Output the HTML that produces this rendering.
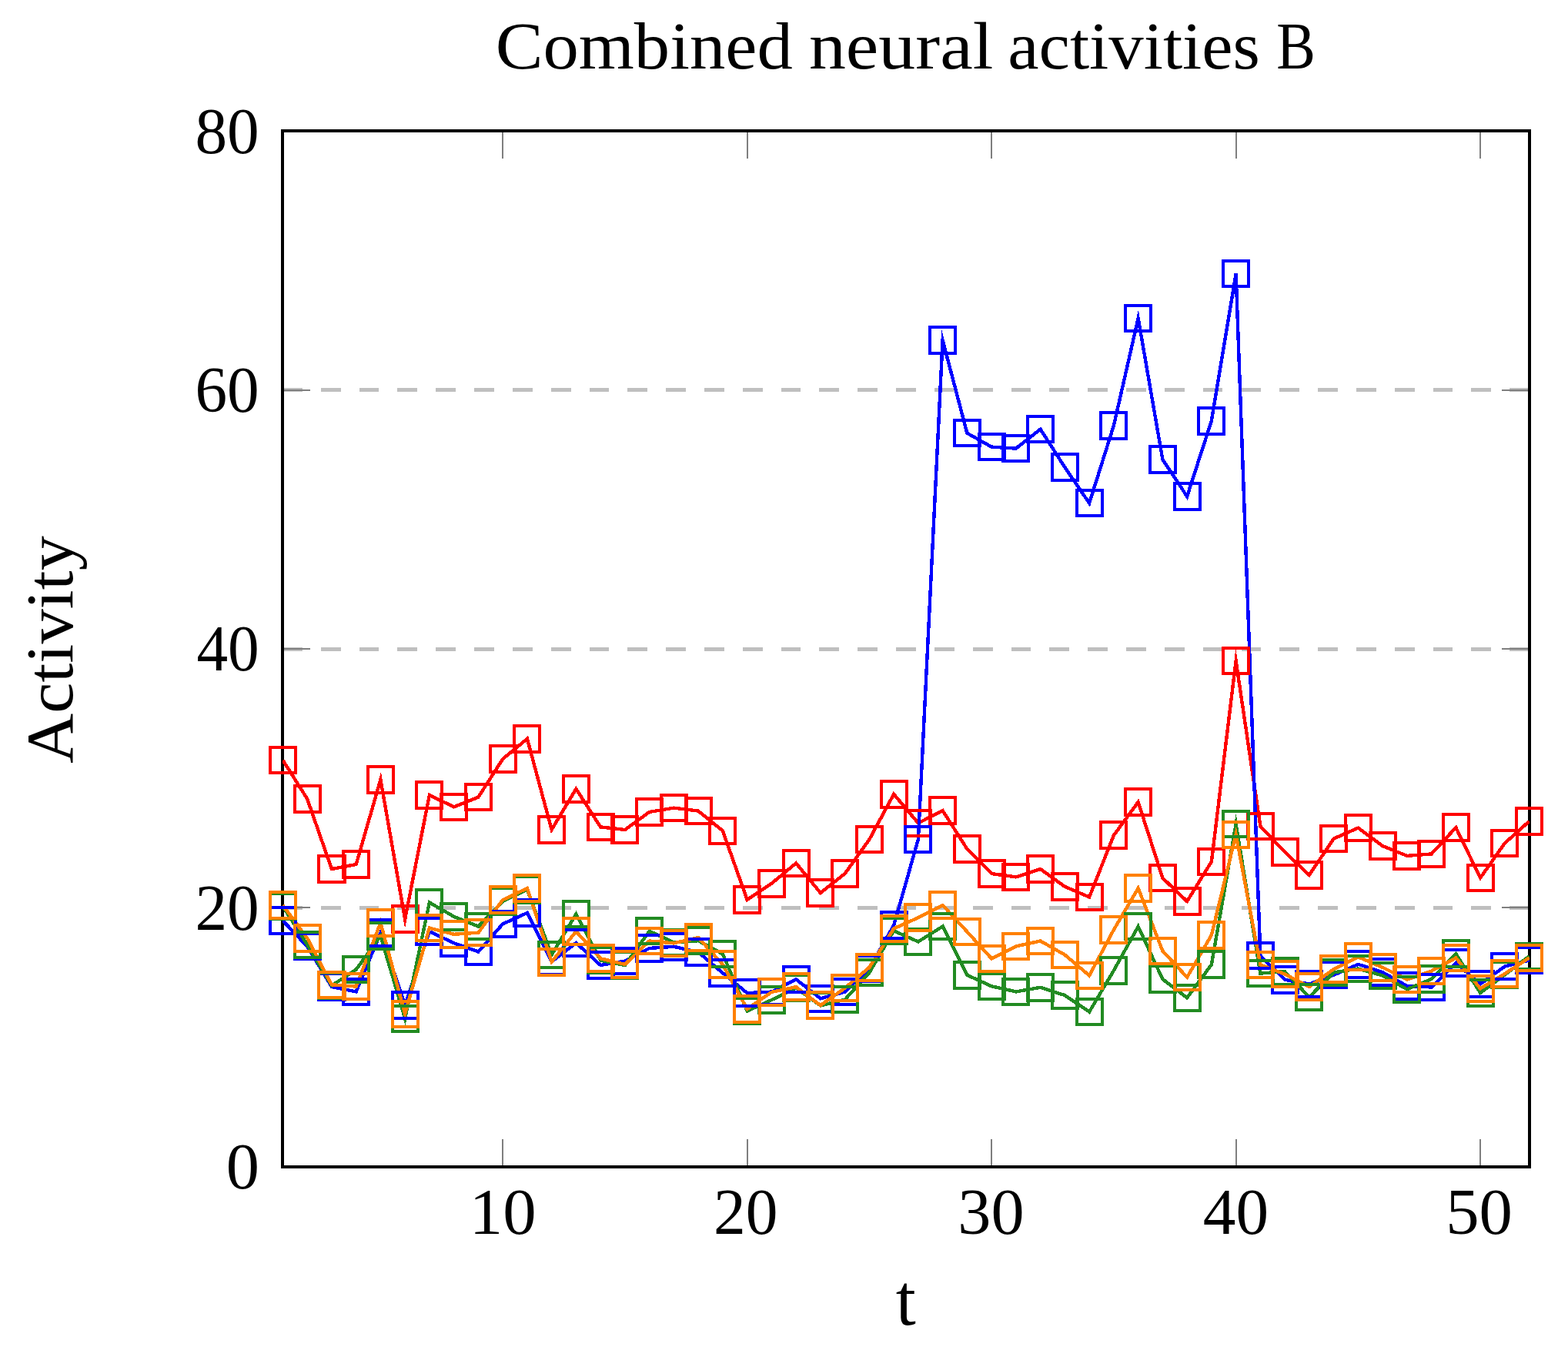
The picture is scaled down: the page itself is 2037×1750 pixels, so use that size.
<!DOCTYPE html>
<html lang="en"><head><meta charset="utf-8"><title>Combined neural activities B</title>
<style>html,body{margin:0;padding:0;background:#fff;}body{width:2037px;height:1750px;overflow:hidden;}svg{display:block;}text{font-family:"Liberation Serif", serif;fill:#000;}</style>
</head><body>
<svg width="2037" height="1750" viewBox="0 0 2037 1750" role="img" aria-label="Combined neural activities B">
<rect x="0" y="0" width="2037" height="1750" fill="#ffffff"/>
<defs><clipPath id="plotclip"><rect x="367" y="170" width="1620" height="1346"/></clipPath></defs>
<g stroke="#bfbfbf" stroke-width="5" stroke-dasharray="25.8 24.02" shape-rendering="crispEdges">
<line x1="367" y1="1179.5" x2="1987" y2="1179.5"/>
<line x1="367" y1="843" x2="1987" y2="843"/>
<line x1="367" y1="506.5" x2="1987" y2="506.5"/>
</g>
<g stroke="#7f7f7f" stroke-width="2" shape-rendering="crispEdges">
<line x1="653" y1="1516" x2="653" y2="1480"/>
<line x1="653" y1="170" x2="653" y2="206"/>
<line x1="971" y1="1516" x2="971" y2="1480"/>
<line x1="971" y1="170" x2="971" y2="206"/>
<line x1="1288" y1="1516" x2="1288" y2="1480"/>
<line x1="1288" y1="170" x2="1288" y2="206"/>
<line x1="1606" y1="1516" x2="1606" y2="1480"/>
<line x1="1606" y1="170" x2="1606" y2="206"/>
<line x1="1923" y1="1516" x2="1923" y2="1480"/>
<line x1="1923" y1="170" x2="1923" y2="206"/>
<line x1="367" y1="1179" x2="403" y2="1179"/>
<line x1="1987" y1="1179" x2="1951" y2="1179"/>
<line x1="367" y1="843" x2="403" y2="843"/>
<line x1="1987" y1="843" x2="1951" y2="843"/>
<line x1="367" y1="507" x2="403" y2="507"/>
<line x1="1987" y1="507" x2="1951" y2="507"/>
</g>
<rect x="367" y="170" width="1620" height="1346" fill="none" stroke="#000" stroke-width="4" shape-rendering="crispEdges"/>
<g fill="none" stroke-width="4.4" stroke-miterlimit="10" stroke-linejoin="miter" shape-rendering="crispEdges" clip-path="url(#plotclip)">
<polyline stroke="#ff0000" points="367.40,987.6 399.15,1037.9 430.90,1129.0 462.65,1123.0 494.40,1012.8 526.15,1194.2 557.89,1032.9 589.64,1048.4 621.39,1035.6 653.14,986.1 684.89,959.8 716.64,1077.9 748.39,1024.9 780.14,1074.4 811.89,1078.0 843.64,1054.9 875.38,1049.6 907.13,1053.6 938.88,1079.4 970.63,1168.9 1002.38,1147.8 1034.13,1121.4 1065.88,1160.0 1097.63,1135.0 1129.38,1090.6 1161.13,1031.8 1192.87,1069.4 1224.62,1053.1 1256.37,1103.0 1288.12,1135.0 1319.87,1139.4 1351.62,1129.0 1383.37,1151.9 1415.12,1165.5 1446.87,1085.2 1478.62,1042.0 1510.36,1140.7 1542.11,1171.0 1573.86,1119.5 1605.61,858.6 1637.36,1073.4 1669.11,1106.9 1700.86,1136.8 1732.61,1089.6 1764.36,1075.6 1796.11,1099.0 1827.85,1111.9 1859.60,1109.4 1891.35,1075.1 1923.10,1140.5 1954.85,1095.5 1986.60,1067.0"/>
<polyline stroke="#0000ff" points="367.40,1196.1 399.15,1229.5 430.90,1282.0 462.65,1288.4 494.40,1211.8 526.15,1305.9 557.89,1210.2 589.64,1225.2 621.39,1236.5 653.14,1200.4 684.89,1186.0 716.64,1249.4 748.39,1225.0 780.14,1254.0 811.89,1248.5 843.64,1231.9 875.38,1229.8 907.13,1237.0 938.88,1264.1 970.63,1290.1 1002.38,1288.6 1034.13,1272.3 1065.88,1297.3 1097.63,1288.6 1129.38,1258.6 1161.13,1202.0 1192.87,1090.7 1224.62,442.1 1256.37,562.7 1288.12,580.6 1319.87,582.6 1351.62,557.6 1383.37,607.2 1415.12,653.7 1446.87,553.0 1478.62,413.5 1510.36,596.8 1542.11,645.0 1573.86,546.8 1605.61,355.5 1637.36,1241.7 1669.11,1272.8 1700.86,1278.5 1732.61,1266.7 1764.36,1252.8 1796.11,1263.2 1827.85,1280.9 1859.60,1282.5 1891.35,1251.0 1923.10,1278.5 1954.85,1255.6 1986.60,1247.6"/>
<polyline stroke="#228b22" points="367.40,1177.5 399.15,1227.3 430.90,1280.5 462.65,1259.6 494.40,1216.1 526.15,1323.3 557.89,1172.5 589.64,1190.8 621.39,1203.6 653.14,1170.8 684.89,1155.9 716.64,1240.5 748.39,1187.6 780.14,1247.6 811.89,1254.0 843.64,1209.7 875.38,1224.4 907.13,1222.2 938.88,1239.4 970.63,1313.5 1002.38,1299.1 1034.13,1283.5 1065.88,1306.5 1097.63,1298.7 1129.38,1263.6 1161.13,1209.4 1192.87,1223.4 1224.62,1203.6 1256.37,1266.8 1288.12,1281.3 1319.87,1288.4 1351.62,1282.8 1383.37,1293.1 1415.12,1314.6 1446.87,1260.9 1478.62,1203.7 1510.36,1272.1 1542.11,1296.3 1573.86,1253.2 1605.61,1070.6 1637.36,1264.6 1669.11,1262.2 1700.86,1295.3 1732.61,1263.4 1764.36,1258.6 1796.11,1267.4 1827.85,1285.3 1859.60,1272.0 1891.35,1239.1 1923.10,1290.0 1954.85,1266.4 1986.60,1242.3"/>
<polyline stroke="#ff8000" points="367.40,1176.2 399.15,1218.8 430.90,1279.3 462.65,1281.6 494.40,1198.8 526.15,1317.3 557.89,1205.6 589.64,1213.8 621.39,1211.7 653.14,1169.2 684.89,1154.0 716.64,1249.8 748.39,1210.1 780.14,1245.2 811.89,1253.0 843.64,1222.5 875.38,1225.4 907.13,1218.1 938.88,1253.0 970.63,1310.9 1002.38,1288.9 1034.13,1282.2 1065.88,1306.2 1097.63,1283.6 1129.38,1256.8 1161.13,1206.4 1192.87,1192.2 1224.62,1176.0 1256.37,1210.5 1288.12,1245.3 1319.87,1229.4 1351.62,1222.5 1383.37,1240.5 1415.12,1267.4 1446.87,1208.0 1478.62,1153.9 1510.36,1235.4 1542.11,1269.7 1573.86,1214.8 1605.61,1084.3 1637.36,1253.3 1669.11,1265.6 1700.86,1282.1 1732.61,1259.1 1764.36,1243.2 1796.11,1256.8 1827.85,1272.6 1859.60,1261.5 1891.35,1244.5 1923.10,1284.3 1954.85,1265.1 1986.60,1244.4"/>
</g>
<g fill="none" stroke-width="4" stroke-linejoin="miter" shape-rendering="crispEdges">
<path stroke="#ff0000" d="M350.80 970.85h33.2v33.5h-33.2zM382.55 1021.15h33.2v33.5h-33.2zM414.30 1112.25h33.2v33.5h-33.2zM446.05 1106.25h33.2v33.5h-33.2zM477.80 996.05h33.2v33.5h-33.2zM509.55 1177.45h33.2v33.5h-33.2zM541.29 1016.15h33.2v33.5h-33.2zM573.04 1031.65h33.2v33.5h-33.2zM604.79 1018.85h33.2v33.5h-33.2zM636.54 969.35h33.2v33.5h-33.2zM668.29 943.05h33.2v33.5h-33.2zM700.04 1061.15h33.2v33.5h-33.2zM731.79 1008.15h33.2v33.5h-33.2zM763.54 1057.65h33.2v33.5h-33.2zM795.29 1061.25h33.2v33.5h-33.2zM827.04 1038.15h33.2v33.5h-33.2zM858.78 1032.85h33.2v33.5h-33.2zM890.53 1036.85h33.2v33.5h-33.2zM922.28 1062.65h33.2v33.5h-33.2zM954.03 1152.15h33.2v33.5h-33.2zM985.78 1131.05h33.2v33.5h-33.2zM1017.53 1104.65h33.2v33.5h-33.2zM1049.28 1143.25h33.2v33.5h-33.2zM1081.03 1118.25h33.2v33.5h-33.2zM1112.78 1073.85h33.2v33.5h-33.2zM1144.53 1015.05h33.2v33.5h-33.2zM1176.27 1052.65h33.2v33.5h-33.2zM1208.02 1036.35h33.2v33.5h-33.2zM1239.77 1086.25h33.2v33.5h-33.2zM1271.52 1118.25h33.2v33.5h-33.2zM1303.27 1122.65h33.2v33.5h-33.2zM1335.02 1112.25h33.2v33.5h-33.2zM1366.77 1135.15h33.2v33.5h-33.2zM1398.52 1148.75h33.2v33.5h-33.2zM1430.27 1068.45h33.2v33.5h-33.2zM1462.02 1025.25h33.2v33.5h-33.2zM1493.76 1123.95h33.2v33.5h-33.2zM1525.51 1154.25h33.2v33.5h-33.2zM1557.26 1102.75h33.2v33.5h-33.2zM1589.01 841.85h33.2v33.5h-33.2zM1620.76 1056.65h33.2v33.5h-33.2zM1652.51 1090.15h33.2v33.5h-33.2zM1684.26 1120.05h33.2v33.5h-33.2zM1716.01 1072.85h33.2v33.5h-33.2zM1747.76 1058.85h33.2v33.5h-33.2zM1779.51 1082.25h33.2v33.5h-33.2zM1811.25 1095.15h33.2v33.5h-33.2zM1843.00 1092.65h33.2v33.5h-33.2zM1874.75 1058.35h33.2v33.5h-33.2zM1906.50 1123.75h33.2v33.5h-33.2zM1938.25 1078.75h33.2v33.5h-33.2zM1970.00 1050.25h33.2v33.5h-33.2z"/>
<path stroke="#0000ff" d="M350.80 1179.35h33.2v33.5h-33.2zM382.55 1212.75h33.2v33.5h-33.2zM414.30 1265.25h33.2v33.5h-33.2zM446.05 1271.65h33.2v33.5h-33.2zM477.80 1195.05h33.2v33.5h-33.2zM509.55 1289.15h33.2v33.5h-33.2zM541.29 1193.45h33.2v33.5h-33.2zM573.04 1208.45h33.2v33.5h-33.2zM604.79 1219.75h33.2v33.5h-33.2zM636.54 1183.65h33.2v33.5h-33.2zM668.29 1169.25h33.2v33.5h-33.2zM700.04 1232.65h33.2v33.5h-33.2zM731.79 1208.25h33.2v33.5h-33.2zM763.54 1237.25h33.2v33.5h-33.2zM795.29 1231.75h33.2v33.5h-33.2zM827.04 1215.15h33.2v33.5h-33.2zM858.78 1213.05h33.2v33.5h-33.2zM890.53 1220.25h33.2v33.5h-33.2zM922.28 1247.35h33.2v33.5h-33.2zM954.03 1273.35h33.2v33.5h-33.2zM985.78 1271.85h33.2v33.5h-33.2zM1017.53 1255.55h33.2v33.5h-33.2zM1049.28 1280.55h33.2v33.5h-33.2zM1081.03 1271.85h33.2v33.5h-33.2zM1112.78 1241.85h33.2v33.5h-33.2zM1144.53 1185.25h33.2v33.5h-33.2zM1176.27 1073.95h33.2v33.5h-33.2zM1208.02 425.35h33.2v33.5h-33.2zM1239.77 545.95h33.2v33.5h-33.2zM1271.52 563.85h33.2v33.5h-33.2zM1303.27 565.85h33.2v33.5h-33.2zM1335.02 540.85h33.2v33.5h-33.2zM1366.77 590.45h33.2v33.5h-33.2zM1398.52 636.95h33.2v33.5h-33.2zM1430.27 536.25h33.2v33.5h-33.2zM1462.02 396.75h33.2v33.5h-33.2zM1493.76 580.05h33.2v33.5h-33.2zM1525.51 628.25h33.2v33.5h-33.2zM1557.26 530.05h33.2v33.5h-33.2zM1589.01 338.75h33.2v33.5h-33.2zM1620.76 1224.95h33.2v33.5h-33.2zM1652.51 1256.05h33.2v33.5h-33.2zM1684.26 1261.75h33.2v33.5h-33.2zM1716.01 1249.95h33.2v33.5h-33.2zM1747.76 1236.05h33.2v33.5h-33.2zM1779.51 1246.45h33.2v33.5h-33.2zM1811.25 1264.15h33.2v33.5h-33.2zM1843.00 1265.75h33.2v33.5h-33.2zM1874.75 1234.25h33.2v33.5h-33.2zM1906.50 1261.75h33.2v33.5h-33.2zM1938.25 1238.85h33.2v33.5h-33.2zM1970.00 1230.85h33.2v33.5h-33.2z"/>
<path stroke="#228b22" d="M350.80 1160.75h33.2v33.5h-33.2zM382.55 1210.55h33.2v33.5h-33.2zM414.30 1263.75h33.2v33.5h-33.2zM446.05 1242.85h33.2v33.5h-33.2zM477.80 1199.35h33.2v33.5h-33.2zM509.55 1306.55h33.2v33.5h-33.2zM541.29 1155.75h33.2v33.5h-33.2zM573.04 1174.05h33.2v33.5h-33.2zM604.79 1186.85h33.2v33.5h-33.2zM636.54 1154.05h33.2v33.5h-33.2zM668.29 1139.15h33.2v33.5h-33.2zM700.04 1223.75h33.2v33.5h-33.2zM731.79 1170.85h33.2v33.5h-33.2zM763.54 1230.85h33.2v33.5h-33.2zM795.29 1237.25h33.2v33.5h-33.2zM827.04 1192.95h33.2v33.5h-33.2zM858.78 1207.65h33.2v33.5h-33.2zM890.53 1205.45h33.2v33.5h-33.2zM922.28 1222.65h33.2v33.5h-33.2zM954.03 1296.75h33.2v33.5h-33.2zM985.78 1282.35h33.2v33.5h-33.2zM1017.53 1266.75h33.2v33.5h-33.2zM1049.28 1289.75h33.2v33.5h-33.2zM1081.03 1281.95h33.2v33.5h-33.2zM1112.78 1246.85h33.2v33.5h-33.2zM1144.53 1192.65h33.2v33.5h-33.2zM1176.27 1206.65h33.2v33.5h-33.2zM1208.02 1186.85h33.2v33.5h-33.2zM1239.77 1250.05h33.2v33.5h-33.2zM1271.52 1264.55h33.2v33.5h-33.2zM1303.27 1271.65h33.2v33.5h-33.2zM1335.02 1266.05h33.2v33.5h-33.2zM1366.77 1276.35h33.2v33.5h-33.2zM1398.52 1297.85h33.2v33.5h-33.2zM1430.27 1244.15h33.2v33.5h-33.2zM1462.02 1186.95h33.2v33.5h-33.2zM1493.76 1255.35h33.2v33.5h-33.2zM1525.51 1279.55h33.2v33.5h-33.2zM1557.26 1236.45h33.2v33.5h-33.2zM1589.01 1053.85h33.2v33.5h-33.2zM1620.76 1247.85h33.2v33.5h-33.2zM1652.51 1245.45h33.2v33.5h-33.2zM1684.26 1278.55h33.2v33.5h-33.2zM1716.01 1246.65h33.2v33.5h-33.2zM1747.76 1241.85h33.2v33.5h-33.2zM1779.51 1250.65h33.2v33.5h-33.2zM1811.25 1268.55h33.2v33.5h-33.2zM1843.00 1255.25h33.2v33.5h-33.2zM1874.75 1222.35h33.2v33.5h-33.2zM1906.50 1273.25h33.2v33.5h-33.2zM1938.25 1249.65h33.2v33.5h-33.2zM1970.00 1225.55h33.2v33.5h-33.2z"/>
<path stroke="#ff8000" d="M350.80 1159.45h33.2v33.5h-33.2zM382.55 1202.05h33.2v33.5h-33.2zM414.30 1262.55h33.2v33.5h-33.2zM446.05 1264.85h33.2v33.5h-33.2zM477.80 1182.05h33.2v33.5h-33.2zM509.55 1300.55h33.2v33.5h-33.2zM541.29 1188.85h33.2v33.5h-33.2zM573.04 1197.05h33.2v33.5h-33.2zM604.79 1194.95h33.2v33.5h-33.2zM636.54 1152.45h33.2v33.5h-33.2zM668.29 1137.25h33.2v33.5h-33.2zM700.04 1233.05h33.2v33.5h-33.2zM731.79 1193.35h33.2v33.5h-33.2zM763.54 1228.45h33.2v33.5h-33.2zM795.29 1236.25h33.2v33.5h-33.2zM827.04 1205.75h33.2v33.5h-33.2zM858.78 1208.65h33.2v33.5h-33.2zM890.53 1201.35h33.2v33.5h-33.2zM922.28 1236.25h33.2v33.5h-33.2zM954.03 1294.15h33.2v33.5h-33.2zM985.78 1272.15h33.2v33.5h-33.2zM1017.53 1265.45h33.2v33.5h-33.2zM1049.28 1289.45h33.2v33.5h-33.2zM1081.03 1266.85h33.2v33.5h-33.2zM1112.78 1240.05h33.2v33.5h-33.2zM1144.53 1189.65h33.2v33.5h-33.2zM1176.27 1175.45h33.2v33.5h-33.2zM1208.02 1159.25h33.2v33.5h-33.2zM1239.77 1193.75h33.2v33.5h-33.2zM1271.52 1228.55h33.2v33.5h-33.2zM1303.27 1212.65h33.2v33.5h-33.2zM1335.02 1205.75h33.2v33.5h-33.2zM1366.77 1223.75h33.2v33.5h-33.2zM1398.52 1250.65h33.2v33.5h-33.2zM1430.27 1191.25h33.2v33.5h-33.2zM1462.02 1137.15h33.2v33.5h-33.2zM1493.76 1218.65h33.2v33.5h-33.2zM1525.51 1252.95h33.2v33.5h-33.2zM1557.26 1198.05h33.2v33.5h-33.2zM1589.01 1067.55h33.2v33.5h-33.2zM1620.76 1236.55h33.2v33.5h-33.2zM1652.51 1248.85h33.2v33.5h-33.2zM1684.26 1265.35h33.2v33.5h-33.2zM1716.01 1242.35h33.2v33.5h-33.2zM1747.76 1226.45h33.2v33.5h-33.2zM1779.51 1240.05h33.2v33.5h-33.2zM1811.25 1255.85h33.2v33.5h-33.2zM1843.00 1244.75h33.2v33.5h-33.2zM1874.75 1227.75h33.2v33.5h-33.2zM1906.50 1267.55h33.2v33.5h-33.2zM1938.25 1248.35h33.2v33.5h-33.2zM1970.00 1227.65h33.2v33.5h-33.2z"/>
</g>
<text font-size="86"><tspan x="643.67" y="88.80" textLength="386.07" lengthAdjust="spacingAndGlyphs">Combined</tspan> <tspan x="1050.97" y="88.80" textLength="239.32" lengthAdjust="spacingAndGlyphs">neural</tspan> <tspan x="1309.33" y="88.80" textLength="327.56" lengthAdjust="spacingAndGlyphs">activities</tspan> <tspan x="1658.23" y="88.80" textLength="50.70" lengthAdjust="spacingAndGlyphs">B</tspan></text>
<text x="253.46" y="199.00" font-size="85" textLength="83.29" lengthAdjust="spacingAndGlyphs">80</text>
<text x="253.46" y="535.10" font-size="85" textLength="83.29" lengthAdjust="spacingAndGlyphs">60</text>
<text x="255.44" y="871.30" font-size="85" textLength="81.23" lengthAdjust="spacingAndGlyphs">40</text>
<text x="253.46" y="1207.60" font-size="85" textLength="83.29" lengthAdjust="spacingAndGlyphs">20</text>
<text x="293.85" y="1543.90" font-size="85" textLength="43.21" lengthAdjust="spacingAndGlyphs">0</text>
<text x="609.75" y="1603.00" font-size="85" textLength="86.82" lengthAdjust="spacingAndGlyphs">10</text>
<text x="926.95" y="1603.00" font-size="85" textLength="83.50" lengthAdjust="spacingAndGlyphs">20</text>
<text x="1244.24" y="1603.00" font-size="85" textLength="86.31" lengthAdjust="spacingAndGlyphs">30</text>
<text x="1562.80" y="1603.00" font-size="85" textLength="85.22" lengthAdjust="spacingAndGlyphs">40</text>
<text x="1878.20" y="1603.00" font-size="85" textLength="86.77" lengthAdjust="spacingAndGlyphs">50</text>
<text x="1163.72" y="1720.80" font-size="95" textLength="26.01" lengthAdjust="spacingAndGlyphs">t</text>
<text x="-1.05" y="0" font-size="86" textLength="295.90" lengthAdjust="spacingAndGlyphs" transform="translate(94.2 991) rotate(-90)">Activity</text>
</svg>
</body></html>
